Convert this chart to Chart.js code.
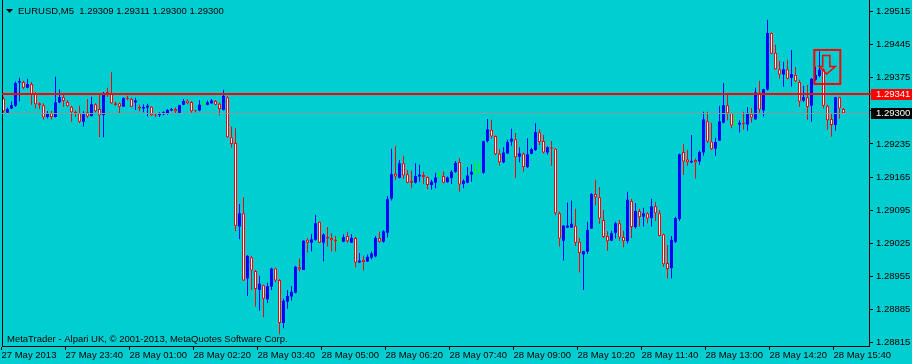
<!DOCTYPE html>
<html>
<head>
<meta charset="utf-8">
<script src="https://cdn.jsdelivr.net/npm/chart.js@4.4.0/dist/chart.umd.min.js"></script>
<style>
    html, body { margin: 0; padding: 0; background: #00CED1; }
    canvas { display: block; }
</style>
</head>
<body>
<canvas id="chart" width="912" height="364"></canvas>
<script>
const symbol = 'EURUSD,M5';
const copyright = 'MetaTrader - Alpari UK, \u00A9 2001-2013, MetaQuotes Software Corp.';

// one label every 16 bars (80 min)
const timeLabels = ['27 May 2013', '27 May 23:40', '28 May 01:00', '28 May 02:20', '28 May 03:40',
    '28 May 05:00', '28 May 06:20', '28 May 07:40', '28 May 09:00', '28 May 10:20',
    '28 May 11:40', '28 May 13:00', '28 May 14:20', '28 May 15:40'];
const priceTicks = [1.28815, 1.28885, 1.28955, 1.29025, 1.29095, 1.29165, 1.29235, 1.29305, 1.29375, 1.29445, 1.29515];
const priceMin = 1.2880717;
const priceMax = 1.2953977;
const levelPrice = 1.29341;
const bidPrice = 1.29300;

const opens = [
    1.29332, 1.29301, 1.29310, 1.29316, 1.29365, 1.29366, 1.29354, 1.29362, 1.29341, 1.29321,
    1.29317, 1.29292, 1.29300, 1.29292, 1.29323, 1.29334, 1.29324, 1.29314, 1.29303, 1.29300,
    1.29282, 1.29302, 1.29294, 1.29319, 1.29309, 1.29296, 1.29345, 1.29341, 1.29321, 1.29321,
    1.29314, 1.29333, 1.29330, 1.29323, 1.29314, 1.29310, 1.29312, 1.29314, 1.29297, 1.29296,
    1.29298, 1.29299, 1.29306, 1.29309, 1.29301, 1.29318, 1.29327, 1.29324, 1.29306, 1.29306,
    1.29321, 1.29318, 1.29321, 1.29326, 1.29320, 1.29307, 1.29334, 1.29249, 1.29237, 1.29060,
    1.29088, 1.28950, 1.28995, 1.28966, 1.28926, 1.28936, 1.28906, 1.28933, 1.28971, 1.28947,
    1.28856, 1.28901, 1.28912, 1.28920, 1.28974, 1.28968, 1.29032, 1.29026, 1.29032, 1.29070,
    1.29026, 1.29038, 1.29036, 1.29032, 1.29031, 1.29028, 1.29040, 1.29026, 1.29036, 1.28984,
    1.28990, 1.28986, 1.28994, 1.28997, 1.29036, 1.29028, 1.29047, 1.29119, 1.29172, 1.29163,
    1.29194, 1.29171, 1.29157, 1.29153, 1.29166, 1.29169, 1.29165, 1.29148, 1.29153, 1.29167,
    1.29167, 1.29154, 1.29163, 1.29176, 1.29197, 1.29150, 1.29153, 1.29170, 1.29176, 1.29176,
    1.29174, 1.29241, 1.29265, 1.29252, 1.29214, 1.29196, 1.29215, 1.29240, 1.29245, 1.29208,
    1.29215, 1.29186, 1.29214, 1.29222, 1.29260, 1.29241, 1.29217, 1.29228, 1.29225, 1.29088,
    1.29030, 1.29058, 1.29058, 1.29062, 1.29028, 1.29001, 1.29007, 1.29056, 1.29129, 1.29122,
    1.29074, 1.29040, 1.29030, 1.29047, 1.29067, 1.29038, 1.29029, 1.29114, 1.29059, 1.29093,
    1.29081, 1.29088, 1.29078, 1.29103, 1.29088, 1.29044, 1.28983, 1.28972, 1.29028, 1.29076,
    1.29218, 1.29202, 1.29196, 1.29201, 1.29198, 1.29217, 1.29283, 1.29240, 1.29225, 1.29242,
    1.29280, 1.29317, 1.29300, 1.29275, 1.29276, 1.29279, 1.29276, 1.29299, 1.29287, 1.29344,
    1.29306, 1.29350, 1.29470, 1.29428, 1.29393, 1.29382, 1.29393, 1.29375, 1.29381, 1.29366,
    1.29327, 1.29334, 1.29316, 1.29371, 1.29379, 1.29393, 1.29316, 1.29288, 1.29275, 1.29334,
    1.29309
];
const highs = [
    1.29335, 1.29312, 1.29325, 1.29367, 1.29375, 1.29369, 1.29373, 1.29366, 1.29345, 1.29323,
    1.29321, 1.29305, 1.29305, 1.29377, 1.29351, 1.29343, 1.29328, 1.29316, 1.29306, 1.29316,
    1.29304, 1.29330, 1.29335, 1.29321, 1.29340, 1.29345, 1.29354, 1.29387, 1.29325, 1.29323,
    1.29334, 1.29337, 1.29333, 1.29333, 1.29318, 1.29319, 1.29320, 1.29315, 1.29299, 1.29302,
    1.29304, 1.29309, 1.29311, 1.29312, 1.29318, 1.29330, 1.29329, 1.29326, 1.29307, 1.29328,
    1.29326, 1.29327, 1.29330, 1.29328, 1.29323, 1.29350, 1.29336, 1.29272, 1.29268, 1.29108,
    1.29122, 1.29000, 1.28997, 1.28968, 1.28956, 1.28937, 1.28941, 1.28973, 1.28973, 1.28949,
    1.28907, 1.28926, 1.28934, 1.28977, 1.28992, 1.29031, 1.29036, 1.29045, 1.29085, 1.29071,
    1.29046, 1.29059, 1.29046, 1.29040, 1.29040, 1.29043, 1.29049, 1.29044, 1.29038, 1.29004,
    1.28998, 1.29001, 1.29007, 1.29040, 1.29049, 1.29052, 1.29125, 1.29225, 1.29231, 1.29201,
    1.29210, 1.29180, 1.29178, 1.29194, 1.29191, 1.29176, 1.29166, 1.29159, 1.29174, 1.29176,
    1.29177, 1.29166, 1.29180, 1.29199, 1.29205, 1.29160, 1.29186, 1.29192, 1.29198, 1.29197,
    1.29242, 1.29288, 1.29286, 1.29253, 1.29224, 1.29228, 1.29244, 1.29267, 1.29258, 1.29228,
    1.29217, 1.29247, 1.29227, 1.29279, 1.29266, 1.29254, 1.29230, 1.29241, 1.29226, 1.29092,
    1.29063, 1.29111, 1.29115, 1.29098, 1.29036, 1.29009, 1.29070, 1.29131, 1.29159, 1.29144,
    1.29095, 1.29050, 1.29051, 1.29070, 1.29074, 1.29051, 1.29134, 1.29119, 1.29110, 1.29098,
    1.29100, 1.29091, 1.29119, 1.29112, 1.29095, 1.29045, 1.29021, 1.29040, 1.29081, 1.29215,
    1.29235, 1.29222, 1.29254, 1.29204, 1.29221, 1.29303, 1.29303, 1.29280, 1.29248, 1.29316,
    1.29364, 1.29343, 1.29301, 1.29296, 1.29285, 1.29303, 1.29313, 1.29311, 1.29354, 1.29369,
    1.29352, 1.29498, 1.29471, 1.29445, 1.29411, 1.29409, 1.29413, 1.29434, 1.29398, 1.29371,
    1.29358, 1.29360, 1.29374, 1.29399, 1.29431, 1.29395, 1.29318, 1.29299, 1.29335, 1.29335,
    1.29311
];
const lows = [
    1.29301, 1.29300, 1.29309, 1.29313, 1.29325, 1.29351, 1.29353, 1.29318, 1.29310, 1.29309,
    1.29287, 1.29289, 1.29287, 1.29291, 1.29321, 1.29314, 1.29314, 1.29282, 1.29292, 1.29279,
    1.29272, 1.29290, 1.29293, 1.29302, 1.29249, 1.29249, 1.29335, 1.29320, 1.29316, 1.29300,
    1.29313, 1.29328, 1.29313, 1.29307, 1.29304, 1.29302, 1.29293, 1.29294, 1.29292, 1.29292,
    1.29296, 1.29297, 1.29304, 1.29300, 1.29300, 1.29317, 1.29319, 1.29301, 1.29302, 1.29304,
    1.29317, 1.29317, 1.29320, 1.29317, 1.29296, 1.29306, 1.29248, 1.29227, 1.29050, 1.29033,
    1.28945, 1.28913, 1.28926, 1.28891, 1.28882, 1.28868, 1.28898, 1.28926, 1.28942, 1.28832,
    1.28845, 1.28886, 1.28903, 1.28919, 1.28965, 1.28968, 1.29005, 1.29007, 1.29030, 1.29025,
    1.28986, 1.29018, 1.29007, 1.29007, 1.29026, 1.29027, 1.29026, 1.29025, 1.28974, 1.28983,
    1.28967, 1.28985, 1.28991, 1.28995, 1.29026, 1.29026, 1.29037, 1.29115, 1.29159, 1.29162,
    1.29161, 1.29152, 1.29141, 1.29151, 1.29155, 1.29150, 1.29139, 1.29138, 1.29141, 1.29163,
    1.29152, 1.29153, 1.29150, 1.29174, 1.29134, 1.29141, 1.29152, 1.29155, 1.29166, 1.29173,
    1.29172, 1.29238, 1.29246, 1.29211, 1.29189, 1.29194, 1.29214, 1.29231, 1.29163, 1.29196,
    1.29176, 1.29184, 1.29213, 1.29220, 1.29232, 1.29215, 1.29212, 1.29189, 1.29084, 1.29018,
    1.28988, 1.29057, 1.29057, 1.29019, 1.28963, 1.28926, 1.29002, 1.29055, 1.29105, 1.29066,
    1.29036, 1.29009, 1.29029, 1.29035, 1.29030, 1.29016, 1.29024, 1.29036, 1.29056, 1.29060,
    1.29060, 1.29067, 1.29060, 1.29072, 1.29039, 1.28975, 1.28950, 1.28950, 1.29025, 1.29072,
    1.29169, 1.29189, 1.29194, 1.29162, 1.29191, 1.29210, 1.29237, 1.29222, 1.29210, 1.29241,
    1.29279, 1.29285, 1.29268, 1.29273, 1.29259, 1.29265, 1.29263, 1.29280, 1.29286, 1.29301,
    1.29293, 1.29348, 1.29425, 1.29392, 1.29373, 1.29356, 1.29372, 1.29356, 1.29366, 1.29314,
    1.29324, 1.29286, 1.29282, 1.29369, 1.29376, 1.29310, 1.29265, 1.29251, 1.29263, 1.29289,
    1.29300
];
const closes = [
    1.29304, 1.29309, 1.29317, 1.29364, 1.29368, 1.29354, 1.29362, 1.29340, 1.29319, 1.29317,
    1.29291, 1.29300, 1.29292, 1.29323, 1.29334, 1.29326, 1.29315, 1.29302, 1.29300, 1.29282,
    1.29298, 1.29293, 1.29319, 1.29304, 1.29295, 1.29343, 1.29340, 1.29321, 1.29317, 1.29314,
    1.29332, 1.29330, 1.29314, 1.29327, 1.29310, 1.29313, 1.29316, 1.29296, 1.29295, 1.29300,
    1.29302, 1.29307, 1.29309, 1.29304, 1.29317, 1.29326, 1.29321, 1.29304, 1.29304, 1.29318,
    1.29321, 1.29323, 1.29327, 1.29318, 1.29309, 1.29337, 1.29249, 1.29235, 1.29062, 1.29088,
    1.28946, 1.28998, 1.28967, 1.28928, 1.28939, 1.28907, 1.28934, 1.28971, 1.28946, 1.28856,
    1.28903, 1.28913, 1.28922, 1.28975, 1.28969, 1.29030, 1.29026, 1.29033, 1.29067, 1.29026,
    1.29043, 1.29035, 1.29031, 1.29029, 1.29031, 1.29038, 1.29029, 1.29036, 1.28984, 1.28988,
    1.28985, 1.28996, 1.29003, 1.29036, 1.29028, 1.29050, 1.29118, 1.29171, 1.29166, 1.29194,
    1.29168, 1.29153, 1.29153, 1.29167, 1.29170, 1.29165, 1.29148, 1.29155, 1.29164, 1.29167,
    1.29153, 1.29164, 1.29176, 1.29195, 1.29149, 1.29157, 1.29168, 1.29176, 1.29176, 1.29176,
    1.29241, 1.29266, 1.29251, 1.29213, 1.29196, 1.29217, 1.29239, 1.29246, 1.29207, 1.29215,
    1.29186, 1.29213, 1.29224, 1.29260, 1.29239, 1.29217, 1.29228, 1.29225, 1.29088, 1.29035,
    1.29062, 1.29062, 1.29066, 1.29026, 1.29004, 1.29008, 1.29053, 1.29129, 1.29122, 1.29077,
    1.29038, 1.29029, 1.29046, 1.29067, 1.29037, 1.29029, 1.29117, 1.29059, 1.29093, 1.29080,
    1.29088, 1.29077, 1.29103, 1.29088, 1.29040, 1.28980, 1.28970, 1.29032, 1.29078, 1.29213,
    1.29198, 1.29196, 1.29199, 1.29196, 1.29218, 1.29287, 1.29240, 1.29224, 1.29239, 1.29283,
    1.29317, 1.29300, 1.29274, 1.29275, 1.29280, 1.29277, 1.29300, 1.29291, 1.29344, 1.29308,
    1.29351, 1.29470, 1.29426, 1.29393, 1.29382, 1.29393, 1.29373, 1.29383, 1.29368, 1.29325,
    1.29334, 1.29313, 1.29373, 1.29381, 1.29392, 1.29316, 1.29285, 1.29275, 1.29334, 1.29310,
    1.29300
];

// sell arrow object drawn on the chart (bar index / price)
const arrowMark = { from: 202.7, to: 209.2, top: 1.29434, bottom: 1.29362,
    stemL: 204.8, stemR: 206.6, headL: 203.95, headR: 207.95, tip: 205.8,
    stemTop: 1.29422, headBase: 1.29399, tipPrice: 1.29383 };

const BG = '#00CED1';
const BULL = '#0000FF';
const BEAR = '#FF0000';
const DOJI = '#00FF00';
const FONT = '"Liberation Sans", Arial, sans-serif';

const bars = opens.map((o, i) => i);
const kind = opens.map((o, i) => closes[i] > o ? 'bull' : (closes[i] < o ? 'bear' : 'doji'));
const lineColor = k => k === 'bull' ? BULL : (k === 'bear' ? BEAR : DOJI);

// chart.js reserves half a label at each end of an axis; the terminal keeps its area full size
function noEdgePadding(scale) {
    scale.paddingTop = 0;
    scale.paddingBottom = 0;
    scale.paddingLeft = 0;
    scale.paddingRight = 0;
}

const overlay = {
    id: 'overlay',
    beforeDraw(chart) {
        const c = chart.ctx;
        c.save();
        c.fillStyle = BG;
        c.fillRect(0, 0, chart.width, chart.height);
        c.restore();
    },
    afterDatasetsDraw(chart) {
        const c = chart.ctx;
        const area = chart.chartArea;
        const xs = chart.scales.x;
        const ys = chart.scales.y;
        c.save();

        // left border
        c.fillStyle = '#000';
        c.fillRect(area.left, area.top, 1, area.bottom - area.top);

        // bid line
        const yb = Math.round(ys.getPixelForValue(bidPrice));
        c.fillStyle = '#8a9a9a';
        c.fillRect(area.left, yb, area.right - area.left, 1);

        // horizontal level
        const yl = Math.round(ys.getPixelForValue(levelPrice));
        c.fillStyle = BEAR;
        c.fillRect(area.left, yl - 1, chart.width - area.left, 2);

        // arrow object
        const a = arrowMark;
        c.strokeStyle = BEAR;
        c.lineWidth = 2;
        c.strokeRect(xs.getPixelForValue(a.from), ys.getPixelForValue(a.top),
            xs.getPixelForValue(a.to) - xs.getPixelForValue(a.from),
            ys.getPixelForValue(a.bottom) - ys.getPixelForValue(a.top));
        c.beginPath();
        c.moveTo(xs.getPixelForValue(a.stemL), ys.getPixelForValue(a.stemTop));
        c.lineTo(xs.getPixelForValue(a.stemR), ys.getPixelForValue(a.stemTop));
        c.lineTo(xs.getPixelForValue(a.stemR), ys.getPixelForValue(a.headBase));
        c.lineTo(xs.getPixelForValue(a.headR), ys.getPixelForValue(a.headBase));
        c.lineTo(xs.getPixelForValue(a.tip), ys.getPixelForValue(a.tipPrice));
        c.lineTo(xs.getPixelForValue(a.headL), ys.getPixelForValue(a.headBase));
        c.lineTo(xs.getPixelForValue(a.stemL), ys.getPixelForValue(a.headBase));
        c.closePath();
        c.lineWidth = 1.5;
        c.stroke();

        // price labels on the axis
        c.font = '9.5px ' + FONT;
        c.textBaseline = 'middle';
        c.fillStyle = BEAR;
        c.fillRect(area.right + 2, yl - 5, chart.width - area.right - 2, 11);
        c.fillStyle = '#FFFFFF';
        c.fillText(levelPrice.toFixed(5), area.right + 7, yl + 0.5);
        c.fillStyle = '#000';
        c.fillRect(area.right + 2, yb - 5, chart.width - area.right - 2, 11);
        c.fillStyle = '#FFFFFF';
        c.fillText(bidPrice.toFixed(5), area.right + 7, yb + 0.5);

        // header
        const last = opens.length - 1;
        c.fillStyle = '#000';
        c.beginPath();
        c.moveTo(area.left + 4, 9);
        c.lineTo(area.left + 11, 9);
        c.lineTo(area.left + 7.5, 13);
        c.closePath();
        c.fill();
        c.font = '9.5px ' + FONT;
        const head = symbol + '  ' + [opens[last], highs[last], lows[last], closes[last]].map(v => v.toFixed(5)).join(' ');
        c.fillText(head, area.left + 16, 11);

        // footer
        c.fillText(copyright, area.left + 5, area.bottom - 7);
        c.restore();
    }
};

const ctx = document.getElementById('chart').getContext('2d');
new Chart(ctx, {
    type: 'bar',
    data: {
        datasets: [
            {
                label: 'wick',
                data: bars.map(i => ({ x: i, y: [lows[i], highs[i]] })),
                backgroundColor: kind.map(lineColor),
                borderWidth: 0,
                barThickness: 1,
                grouped: false,
                inflateAmount: 0,
                order: 2
            },
            {
                label: 'body',
                data: bars.map(i => ({ x: i, y: [opens[i], closes[i]] })),
                backgroundColor: kind.map(k => k === 'bear' ? '#FFFFFF' : lineColor(k)),
                borderColor: kind.map(lineColor),
                borderWidth: kind.map(k => k === 'bear' ? 1 : 0),
                borderSkipped: false,
                barThickness: 3,
                minBarLength: 1,
                grouped: false,
                inflateAmount: 0,
                order: 1
            }
        ]
    },
    options: {
        responsive: false,
        animation: false,
        devicePixelRatio: 1,
        layout: { padding: { left: 2, top: 0, right: 0, bottom: 0 } },
        plugins: { legend: { display: false }, tooltip: { enabled: false } },
        scales: {
            x: {
                type: 'linear',
                min: -0.375,
                max: 216.375,
                offset: false,
                afterBuildTicks: s => { s.ticks = timeLabels.map((t, j) => ({ value: j * 16 - 0.5 })); },
                afterFit: s => { s.height = 18; noEdgePadding(s); },
                ticks: {
                    autoSkip: false,
                    maxRotation: 0,
                    minRotation: 0,
                    align: 'start',
                    padding: 0,
                    color: '#000',
                    font: { family: FONT, size: 9.5 },
                    callback: (v, i) => timeLabels[i]
                },
                grid: { offset: false, drawOnChartArea: false, tickLength: 4, color: '#000' },
                border: { color: '#000' }
            },
            y: {
                type: 'linear',
                position: 'right',
                min: priceMin,
                max: priceMax,
                afterBuildTicks: s => { s.ticks = priceTicks.map(v => ({ value: v })); },
                afterFit: s => { s.width = 43; noEdgePadding(s); },
                ticks: {
                    padding: 3,
                    color: '#000',
                    font: { family: FONT, size: 9.5 },
                    callback: v => v.toFixed(5)
                },
                grid: { drawOnChartArea: false, tickLength: 4, color: '#000' },
                border: { color: '#000' }
            }
        }
    },
    plugins: [overlay]
});
</script>
</body>
</html>
